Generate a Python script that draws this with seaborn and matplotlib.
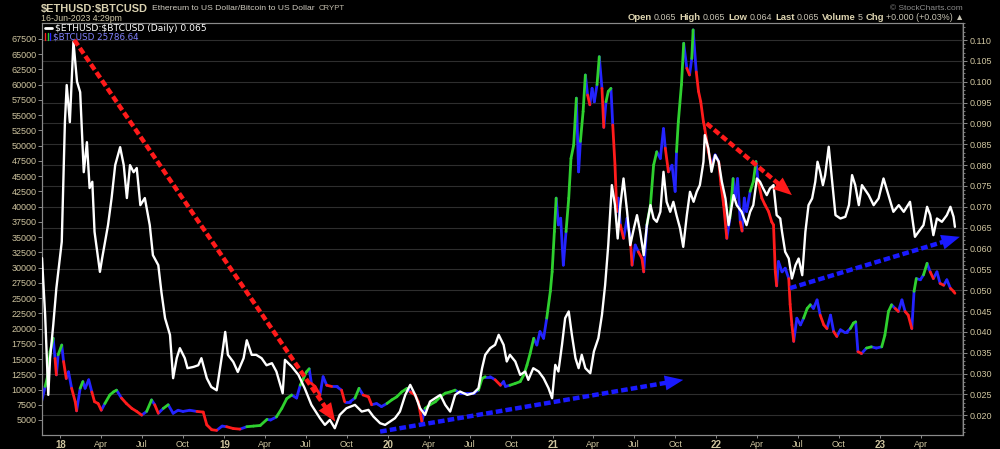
import numpy as np
import pandas as pd
import matplotlib
matplotlib.use('Agg')
import matplotlib.pyplot as plt
import matplotlib.dates as mdates
import matplotlib.ticker as mticker
from matplotlib.transforms import blended_transform_factory
import seaborn as sns

# --- ETH/BTC ratio (right axis) ---
eth_dates = [
    '2017-11-21', '2017-11-28', '2017-12-05', '2017-12-09', '2017-12-16', '2017-12-23', '2018-01-04',
    '2018-01-11', '2018-01-15', '2018-01-22', '2018-01-30', '2018-02-07', '2018-02-14', '2018-02-22',
    '2018-03-01', '2018-03-07', '2018-03-13', '2018-03-18', '2018-03-30', '2018-04-04', '2018-04-17',
    '2018-04-25', '2018-05-03', '2018-05-14', '2018-05-22', '2018-05-29', '2018-06-05', '2018-06-13',
    '2018-06-20', '2018-06-28', '2018-07-08', '2018-07-19', '2018-07-26', '2018-08-07', '2018-08-14',
    '2018-08-22', '2018-09-02', '2018-09-09', '2018-09-17', '2018-09-24', '2018-10-05', '2018-10-11',
    '2018-10-24', '2018-11-04', '2018-11-11', '2018-11-23', '2018-12-03', '2018-12-15', '2018-12-27',
    '2019-01-03', '2019-01-09', '2019-01-21', '2019-01-31', '2019-02-13', '2019-02-20', '2019-03-03',
    '2019-03-13', '2019-03-25', '2019-04-05', '2019-04-17', '2019-04-27', '2019-05-11', '2019-05-16',
    '2019-05-31', '2019-06-15', '2019-06-29', '2019-07-14', '2019-08-02', '2019-08-13', '2019-08-24',
    '2019-09-04', '2019-09-15', '2019-09-30', '2019-10-19', '2019-11-03', '2019-11-18', '2019-11-29',
    '2019-12-14', '2019-12-25', '2020-01-05', '2020-01-16', '2020-01-27', '2020-02-08', '2020-02-19',
    '2020-03-01', '2020-03-12', '2020-03-23', '2020-04-03', '2020-04-26', '2020-05-07', '2020-05-18',
    '2020-05-29', '2020-06-09', '2020-06-25', '2020-07-09', '2020-07-20', '2020-07-28', '2020-08-04',
    '2020-08-15', '2020-08-26', '2020-09-03', '2020-09-14', '2020-09-21', '2020-09-28', '2020-10-10',
    '2020-10-21', '2020-11-01', '2020-11-08', '2020-11-19', '2020-12-01', '2020-12-12', '2020-12-23',
    '2020-12-31', '2021-01-07', '2021-01-14', '2021-01-22', '2021-01-29', '2021-02-06', '2021-02-13',
    '2021-02-21', '2021-02-28', '2021-03-07', '2021-03-15', '2021-03-26', '2021-04-03', '2021-04-13',
    '2021-04-21', '2021-04-28', '2021-05-05', '2021-05-13', '2021-05-20', '2021-05-26', '2021-06-01',
    '2021-06-08', '2021-06-16', '2021-06-23', '2021-07-01', '2021-07-08', '2021-07-15', '2021-07-23',
    '2021-07-30', '2021-08-07', '2021-08-14', '2021-08-21', '2021-08-29', '2021-09-05', '2021-09-12',
    '2021-09-20', '2021-09-27', '2021-10-04', '2021-10-12', '2021-10-19', '2021-10-27', '2021-11-03',
    '2021-11-11', '2021-11-18', '2021-11-25', '2021-12-03', '2021-12-06', '2021-12-14', '2021-12-21',
    '2021-12-29', '2022-01-06', '2022-01-13', '2022-01-21', '2022-01-28', '2022-02-08', '2022-02-15',
    '2022-02-26', '2022-03-09', '2022-03-17', '2022-03-24', '2022-04-01', '2022-04-08', '2022-04-15',
    '2022-04-23', '2022-04-30', '2022-05-08', '2022-05-15', '2022-05-23', '2022-05-27', '2022-06-03',
    '2022-06-11', '2022-06-18', '2022-06-26', '2022-07-03', '2022-07-11', '2022-07-18', '2022-07-25',
    '2022-08-02', '2022-08-09', '2022-08-14', '2022-08-20', '2022-08-26', '2022-08-31', '2022-09-08',
    '2022-09-15', '2022-09-23', '2022-10-04', '2022-10-15', '2022-10-23', '2022-10-30', '2022-11-06',
    '2022-11-14', '2022-11-21', '2022-12-06', '2022-12-17', '2022-12-28', '2023-01-08', '2023-01-19',
    '2023-01-30', '2023-02-11', '2023-02-22', '2023-03-08', '2023-03-19', '2023-03-27', '2023-04-07',
    '2023-04-15', '2023-04-22', '2023-04-29', '2023-05-07', '2023-05-18', '2023-05-29', '2023-06-06',
    '2023-06-13', '2023-06-16',
]
eth_ratio = [
    0.0577, 0.0440, 0.0249, 0.0337, 0.0416, 0.0505, 0.0616,
    0.0903, 0.0992, 0.0903, 0.1096, 0.1000, 0.0975, 0.0783,
    0.0855, 0.0745, 0.0760, 0.0640, 0.0544, 0.0577, 0.0656,
    0.0721, 0.0800, 0.0843, 0.0800, 0.0721, 0.0800, 0.0783,
    0.0793, 0.0704, 0.0721, 0.0656, 0.0584, 0.0560, 0.0495,
    0.0433, 0.0393, 0.0289, 0.0337, 0.0361, 0.0337, 0.0313,
    0.0316, 0.0320, 0.0337, 0.0289, 0.0268, 0.0260, 0.0345,
    0.0400, 0.0345, 0.0328, 0.0304, 0.0337, 0.0380, 0.0345,
    0.0345, 0.0337, 0.0320, 0.0325, 0.0305, 0.0253, 0.0333,
    0.0317, 0.0297, 0.0265, 0.0225, 0.0193, 0.0177, 0.0189,
    0.0169, 0.0201, 0.0217, 0.0225, 0.0209, 0.0213, 0.0197,
    0.0181, 0.0177, 0.0185, 0.0193, 0.0209, 0.0249, 0.0273,
    0.0249, 0.0217, 0.0201, 0.0233, 0.0249, 0.0225, 0.0209,
    0.0249, 0.0257, 0.0249, 0.0253, 0.0265, 0.0313, 0.0345,
    0.0361, 0.0369, 0.0393, 0.0369, 0.0329, 0.0345, 0.0329,
    0.0297, 0.0305, 0.0285, 0.0313, 0.0305, 0.0289, 0.0265,
    0.0241, 0.0321, 0.0305, 0.0369, 0.0433, 0.0449, 0.0393,
    0.0337, 0.0313, 0.0345, 0.0313, 0.0301, 0.0353, 0.0385,
    0.0441, 0.0512, 0.0608, 0.0752, 0.0704, 0.0624, 0.0704,
    0.0768, 0.0688, 0.0608, 0.0648, 0.0680, 0.0640, 0.0584,
    0.0656, 0.0704, 0.0672, 0.0664, 0.0688, 0.0784, 0.0712,
    0.0688, 0.0712, 0.0680, 0.0648, 0.0604, 0.0680, 0.0736,
    0.0712, 0.0736, 0.0752, 0.0808, 0.0872, 0.0840, 0.0784,
    0.0824, 0.0808, 0.0760, 0.0720, 0.0656, 0.0728, 0.0704,
    0.0688, 0.0656, 0.0688, 0.0704, 0.0768, 0.0760, 0.0744,
    0.0728, 0.0744, 0.0752, 0.0680, 0.0672, 0.0640, 0.0592,
    0.0576, 0.0528, 0.0560, 0.0576, 0.0536, 0.0640, 0.0704,
    0.0720, 0.0760, 0.0808, 0.0784, 0.0752, 0.0776, 0.0844,
    0.0768, 0.0680, 0.0672, 0.0676, 0.0704, 0.0776, 0.0752,
    0.0704, 0.0752, 0.0728, 0.0704, 0.0720, 0.0768, 0.0728,
    0.0688, 0.0704, 0.0688, 0.0712, 0.0628, 0.0640, 0.0656,
    0.0700, 0.0680, 0.0632, 0.0672, 0.0664, 0.0680, 0.0700,
    0.0676, 0.0652,
]

# --- BTC/USD price (left axis) ---
btc_dates = [
    '2017-11-20', '2017-11-28', '2017-12-03', '2017-12-09', '2017-12-16', '2017-12-20', '2017-12-23',
    '2017-12-27', '2018-01-04', '2018-01-08', '2018-01-14', '2018-01-19', '2018-01-26', '2018-02-03',
    '2018-02-06', '2018-02-14', '2018-02-20', '2018-02-25', '2018-03-05', '2018-03-12', '2018-03-18',
    '2018-03-26', '2018-04-02', '2018-04-10', '2018-04-21', '2018-04-29', '2018-05-06', '2018-05-17',
    '2018-05-28', '2018-06-09', '2018-06-20', '2018-07-01', '2018-07-12', '2018-07-23', '2018-07-30',
    '2018-08-07', '2018-08-18', '2018-08-29', '2018-09-09', '2018-09-20', '2018-10-01', '2018-10-16',
    '2018-11-01', '2018-11-15', '2018-11-23', '2018-12-04', '2018-12-15', '2018-12-27', '2019-01-06',
    '2019-01-21', '2019-02-05', '2019-02-20', '2019-03-07', '2019-03-22', '2019-04-06', '2019-04-14',
    '2019-04-27', '2019-05-09', '2019-05-20', '2019-05-31', '2019-06-11', '2019-06-19', '2019-06-26',
    '2019-07-03', '2019-07-09', '2019-07-14', '2019-07-22', '2019-08-02', '2019-08-09', '2019-08-17',
    '2019-08-28', '2019-09-08', '2019-09-19', '2019-09-26', '2019-10-08', '2019-10-19', '2019-10-28',
    '2019-11-06', '2019-11-18', '2019-11-25', '2019-12-06', '2019-12-17', '2019-12-29', '2020-01-09',
    '2020-01-20', '2020-01-31', '2020-02-12', '2020-02-19', '2020-03-01', '2020-03-08', '2020-03-16',
    '2020-03-23', '2020-04-03', '2020-04-15', '2020-04-26', '2020-05-07', '2020-05-18', '2020-05-29',
    '2020-06-09', '2020-06-25', '2020-07-09', '2020-07-20', '2020-07-28', '2020-08-04', '2020-08-15',
    '2020-08-26', '2020-09-07', '2020-09-14', '2020-09-18', '2020-09-28', '2020-10-10', '2020-10-21',
    '2020-10-29', '2020-11-05', '2020-11-12', '2020-11-20', '2020-11-27', '2020-12-04', '2020-12-12',
    '2020-12-19', '2020-12-27', '2020-12-31', '2021-01-05', '2021-01-09', '2021-01-14', '2021-01-19',
    '2021-01-25', '2021-01-31', '2021-02-06', '2021-02-11', '2021-02-17', '2021-02-23', '2021-02-28',
    '2021-03-04', '2021-03-10', '2021-03-15', '2021-03-20', '2021-03-25', '2021-03-30', '2021-04-04',
    '2021-04-10', '2021-04-15', '2021-04-21', '2021-04-25', '2021-04-30', '2021-05-05', '2021-05-11',
    '2021-05-15', '2021-05-20', '2021-05-24', '2021-05-27', '2021-06-01', '2021-06-08', '2021-06-16',
    '2021-06-23', '2021-06-27', '2021-07-04', '2021-07-11', '2021-07-19', '2021-07-23', '2021-07-30',
    '2021-08-07', '2021-08-14', '2021-08-21', '2021-08-29', '2021-09-05', '2021-09-09', '2021-09-16',
    '2021-09-24', '2021-10-01', '2021-10-04', '2021-10-08', '2021-10-15', '2021-10-20', '2021-10-27',
    '2021-11-02', '2021-11-07', '2021-11-10', '2021-11-17', '2021-11-22', '2021-11-27', '2021-12-03',
    '2021-12-06', '2021-12-14', '2021-12-21', '2021-12-29', '2022-01-06', '2022-01-11', '2022-01-17',
    '2022-01-24', '2022-01-31', '2022-02-07', '2022-02-12', '2022-02-17', '2022-02-23', '2022-02-27',
    '2022-03-04', '2022-03-09', '2022-03-17', '2022-03-24', '2022-03-30', '2022-04-04', '2022-04-12',
    '2022-04-19', '2022-04-27', '2022-05-04', '2022-05-08', '2022-05-12', '2022-05-15', '2022-05-19',
    '2022-05-27', '2022-06-03', '2022-06-11', '2022-06-14', '2022-06-18', '2022-06-22', '2022-06-29',
    '2022-07-07', '2022-07-14', '2022-07-22', '2022-07-29', '2022-08-05', '2022-08-13', '2022-08-20',
    '2022-08-28', '2022-09-04', '2022-09-12', '2022-09-19', '2022-09-26', '2022-10-04', '2022-10-11',
    '2022-10-19', '2022-10-26', '2022-11-02', '2022-11-07', '2022-11-12', '2022-11-20', '2022-12-01',
    '2022-12-12', '2022-12-23', '2023-01-04', '2023-01-11', '2023-01-19', '2023-01-26', '2023-02-03',
    '2023-02-10', '2023-02-18', '2023-02-25', '2023-03-04', '2023-03-12', '2023-03-17', '2023-03-22',
    '2023-03-31', '2023-04-07', '2023-04-15', '2023-04-22', '2023-04-29', '2023-05-07', '2023-05-14',
    '2023-05-22', '2023-05-29', '2023-06-06', '2023-06-13', '2023-06-16',
]
btc_price = [
    8000, 10500, 12000, 16200, 18400, 15100, 12400,
    15700, 17300, 14600, 11800, 12900, 10200, 8000,
    6500, 10200, 11300, 10200, 11600, 9600, 8000,
    7700, 6600, 7700, 9100, 9600, 9900, 8600,
    7700, 6900, 6400, 5800, 6400, 8300, 7500,
    6100, 6900, 7500, 6100, 6600, 6400, 6600,
    6400, 6300, 4200, 3400, 3300, 4000, 3900,
    3600, 3500, 3900, 4000, 4100, 5100, 5000,
    5500, 6900, 8500, 9100, 8600, 10700, 11800,
    12900, 13400, 11000, 10500, 9100, 12100, 10700,
    10500, 10500, 9900, 8000, 8000, 8600, 10200,
    9100, 8800, 7500, 7700, 7200, 7700, 8300,
    8800, 9600, 10200, 9600, 9100, 8000, 4700,
    6900, 7500, 8000, 8800, 9400, 9600, 9900,
    9400, 9400, 9400, 9900, 11800, 12100, 12100,
    11600, 10700, 11300, 10500, 10700, 11000, 11300,
    12400, 14000, 15900, 18400, 17300, 19500, 18400,
    21700, 26100, 29300, 35900, 41400, 37000, 38100,
    30400, 35900, 41400, 47900, 50100, 57800, 45700,
    50700, 55600, 61600, 58300, 56700, 59400, 57200,
    60000, 64600, 59400, 53000, 57200, 58900, 59400,
    53400, 46800, 39200, 41400, 37000, 34800, 38100,
    34800, 30400, 33700, 32600, 31500, 29300, 37000,
    40300, 46800, 49000, 47900, 52800, 49600, 45700,
    46800, 42500, 49000, 53900, 60000, 66800, 62700,
    61600, 64300, 69000, 62100, 58900, 57200, 53900,
    52800, 49000, 46800, 48500, 47400, 43600, 40300,
    34800, 38100, 44600, 41400, 44600, 37500, 36000,
    41400, 39200, 42500, 44100, 47400, 44100, 41400,
    40300, 39200, 37500, 37000, 29300, 27000, 31000,
    29300, 29900, 28200, 24000, 20600, 17900, 21700,
    20600, 21700, 23300, 23900, 23300, 24700, 22200,
    20600, 20000, 22200, 19500, 18700, 19800, 19500,
    19500, 20000, 20900, 21100, 16200, 15900, 16800,
    17000, 16800, 17000, 18900, 22800, 23900, 23300,
    22800, 24700, 22800, 22200, 20000, 26100, 28200,
    28000, 28800, 30700, 29300, 28200, 29300, 27400,
    27100, 28000, 26600, 26100, 25786.64,
]

# trend arrows drawn on the chart: (start date, ratio) -> (end date, ratio)
red_arrows = [
    (('2018-02-01', 0.1100), ('2019-09-05', 0.0185)),
    (('2021-12-10', 0.0900), ('2022-06-18', 0.0728)),
]
blue_arrows = [
    (('2019-12-14', 0.0161), ('2021-10-19', 0.0285)),
    (('2022-06-14', 0.0505), ('2023-06-27', 0.0628)),
]

left_ticks = list(range(5000, 67501, 2500))
ratio_ticks = [round(0.020 + 0.005 * k, 3) for k in range(19)]
quote = [('Open', True), ('0.065', False), ('High', True), ('0.065', False), ('Low', True),
         ('0.064', False), ('Last', True), ('0.065', False), ('Volume', True), ('5', False),
         ('Chg', True), ('+0.000 (+0.03%) \u25b2', False)]

bg = '#000000'
tan = '#cfc5a0'
grid_c = '#2e2e2e'
spine_c = '#8a8a8a'
impulse_pal = {'up': '#2fd12f', 'down': '#ff1c1c', 'mixed': '#2424ff'}

sns.set_theme(style='dark', rc={'figure.facecolor': bg, 'axes.facecolor': bg,
                                'savefig.facecolor': bg, 'text.color': tan})
plt.rcParams['font.family'] = ['Liberation Sans', 'DejaVu Sans']
plt.rcParams['text.parse_math'] = False

eth = pd.DataFrame({'date': pd.to_datetime(eth_dates), 'ratio': eth_ratio})
btc = pd.DataFrame({'date': pd.to_datetime(btc_dates), 'price': btc_price})

# colour each BTC segment by a simple impulse rule (two rising steps / two falling / mixed)
step = btc['price'].diff()
prev = step.shift(1)
btc['impulse'] = np.where((step > 0) & (prev > 0), 'up',
                          np.where((step < 0) & (prev < 0), 'down', 'mixed'))
rows = []
for i in range(1, len(btc)):
    for j in (i - 1, i):
        rows.append({'date': btc['date'][j], 'price': btc['price'][j],
                     'seg': i, 'impulse': btc['impulse'][i]})
seg_df = pd.DataFrame(rows)

fig = plt.figure(figsize=(10, 4.49), dpi=100)
ax_b = fig.add_axes([0.042, 0.0312, 0.921, 0.9176])
ax_r = ax_b.twinx()

x_lo, x_hi = pd.Timestamp('2017-11-21'), pd.Timestamp('2023-07-04')
ax_b.set_xlim(x_lo, x_hi)
ax_b.set_ylim(2540, 70125)
ax_r.set_ylim(0.01528, 0.11408)

# grid: verticals at Jan/Jul, horizontals on the right-axis ticks
trans = blended_transform_factory(ax_b.transAxes, ax_r.transData)
for r in ratio_ticks:
    ax_b.plot([0, 1], [r, r], transform=trans, color=grid_c, lw=0.8, zorder=0)
ax_b.xaxis.set_minor_locator(mdates.MonthLocator(bymonth=[1, 7]))
ax_b.grid(which='minor', axis='x', color=grid_c, lw=0.8)
ax_b.grid(which='major', visible=False)
ax_r.grid(False)

sns.lineplot(data=seg_df, x='date', y='price', hue='impulse', units='seg', estimator=None,
             palette=impulse_pal, lw=2.0, legend=False, sort=False, ax=ax_b,
             solid_capstyle='round')
sns.lineplot(data=eth, x='date', y='ratio', color='white', lw=1.7, ax=ax_r, zorder=4)

ax_b.set_ylim(2540, 70125)
ax_r.set_ylim(0.01528, 0.11408)
ax_b.set_xlim(x_lo, x_hi)


def draw_arrow(ax, start, end, color):
    d0, v0 = mdates.date2num(pd.Timestamp(start[0])), start[1]
    d1, v1 = mdates.date2num(pd.Timestamp(end[0])), end[1]
    p0 = ax.transData.transform((d0, v0))
    p1 = ax.transData.transform((d1, v1))
    u = (p1 - p0) / np.hypot(*(p1 - p0))
    tail = ax.transData.inverted().transform(p1 - 14 * u)
    ax.plot([d0, tail[0]], [v0, tail[1]], color=color, lw=3.2, dashes=(1.5, 0.7),
            solid_capstyle='butt', zorder=6)
    ax.annotate('', xy=(d1, v1), xytext=(tail[0], tail[1]),
                arrowprops=dict(arrowstyle='-|>,head_length=1.1,head_width=0.45',
                                color=color, lw=0, shrinkA=0, shrinkB=0,
                                mutation_scale=12), zorder=7)


for s, e in red_arrows:
    draw_arrow(ax_r, s, e, '#ff1a1a')
for s, e in blue_arrows:
    draw_arrow(ax_r, s, e, '#1a1aff')

# axes styling
ax_b.set_xlabel('')
ax_b.set_ylabel('')
ax_r.set_ylabel('')
for ax in (ax_b, ax_r):
    for sp in ax.spines.values():
        sp.set_color(spine_c)
        sp.set_linewidth(0.8)

ax_b.yaxis.set_major_locator(mticker.FixedLocator(left_ticks))
ax_b.yaxis.set_major_formatter(mticker.FuncFormatter(lambda v, p: f'{v:.0f}'))
ax_b.tick_params(axis='y', which='major', left=True, length=3, width=0.7, color=spine_c,
                 labelsize=6.5, labelcolor=tan, pad=1)
ax_r.yaxis.set_major_locator(mticker.FixedLocator(ratio_ticks))
ax_r.yaxis.set_minor_locator(mticker.MultipleLocator(0.001))
ax_r.yaxis.set_major_formatter(mticker.FormatStrFormatter('%.3f'))
ax_r.tick_params(axis='y', which='major', right=True, length=3, width=0.7, color=spine_c,
                 labelsize=6.5, labelcolor=tan, pad=2)
ax_r.tick_params(axis='y', which='minor', right=True, length=1.5, width=0.6, color=spine_c)

quarters = pd.date_range('2018-01-01', '2023-04-01', freq='QS')
q_labels = [f'{d:%y}' if d.month == 1 else f'{d:%b}' for d in quarters]
ax_b.set_xticks(quarters)
ax_b.set_xticklabels(q_labels)
ax_b.tick_params(axis='x', which='major', bottom=True, length=2.5, width=0.7, color=spine_c,
                 labelsize=6.5, labelcolor=tan, pad=1.0)
ax_b.tick_params(axis='x', which='minor', length=0)
for lab, d in zip(ax_b.get_xticklabels(), quarters):
    if d.month == 1:
        lab.set_fontweight('bold')
        lab.set_fontsize(7)

# legend inside the panel
ax_b.plot([0.003, 0.011], [0.987, 0.987], transform=ax_b.transAxes, color='white', lw=2, zorder=8)
ax_b.text(0.014, 0.987, '$ETHUSD:$BTCUSD (Daily) 0.065', transform=ax_b.transAxes,
          fontsize=6.6, color='white', va='center', family='DejaVu Sans', zorder=8)
for k, c in enumerate(['#ff1c1c', '#2fd12f', '#2424ff']):
    ax_b.plot([0.0035 + k * 0.0025] * 2, [0.958, 0.976], transform=ax_b.transAxes,
              color=c, lw=1, zorder=8)
ax_b.text(0.012, 0.967, '$BTCUSD 25786.64', transform=ax_b.transAxes,
          fontsize=6.3, color='#8282ff', va='center', family='DejaVu Sans', zorder=8)

# header: symbol, description, exchange chained left to right
title = fig.text(0.041, 0.981, '$ETHUSD:$BTCUSD', fontsize=7.9, fontweight='bold',
                 color='#d9d1b0', va='center')
desc = ax_b.annotate('Ethereum to US Dollar/Bitcoin to US Dollar', xy=(1, 0.5),
                     xycoords=title, xytext=(3, 0), textcoords='offset points',
                     fontsize=6.1, color='#d0ccc0', va='center', annotation_clip=False)
ax_b.annotate('CRYPT', xy=(1, 0.5), xycoords=desc, xytext=(3, 0), textcoords='offset points',
              fontsize=5.6, color='#bdb8a8', va='center', annotation_clip=False)
fig.text(0.041, 0.958, '16-Jun-2023 4:29pm', fontsize=6.3, color='#d0c8a8', va='center')
fig.text(0.963, 0.981, '\u00a9 StockCharts.com', fontsize=6, color='#8c8c8c',
         va='center', ha='right')

# quote line chained left to right
last = fig.text(0.628, 0.962, quote[0][0], fontsize=6.8, fontweight='bold',
                color='#ddd4b0', va='center')
for word, bold in quote[1:]:
    gap = 2.3 if bold else 1.3
    last = ax_b.annotate(word, xy=(1, 0.5), xycoords=last, xytext=(gap, 0),
                         textcoords='offset points', va='center', ha='left',
                         fontsize=6.8 if bold else 6.4,
                         fontweight='bold' if bold else 'normal',
                         color='#ddd4b0' if bold else '#c8c4b4', annotation_clip=False)

fig.savefig('out.png', dpi=100, facecolor=bg)
